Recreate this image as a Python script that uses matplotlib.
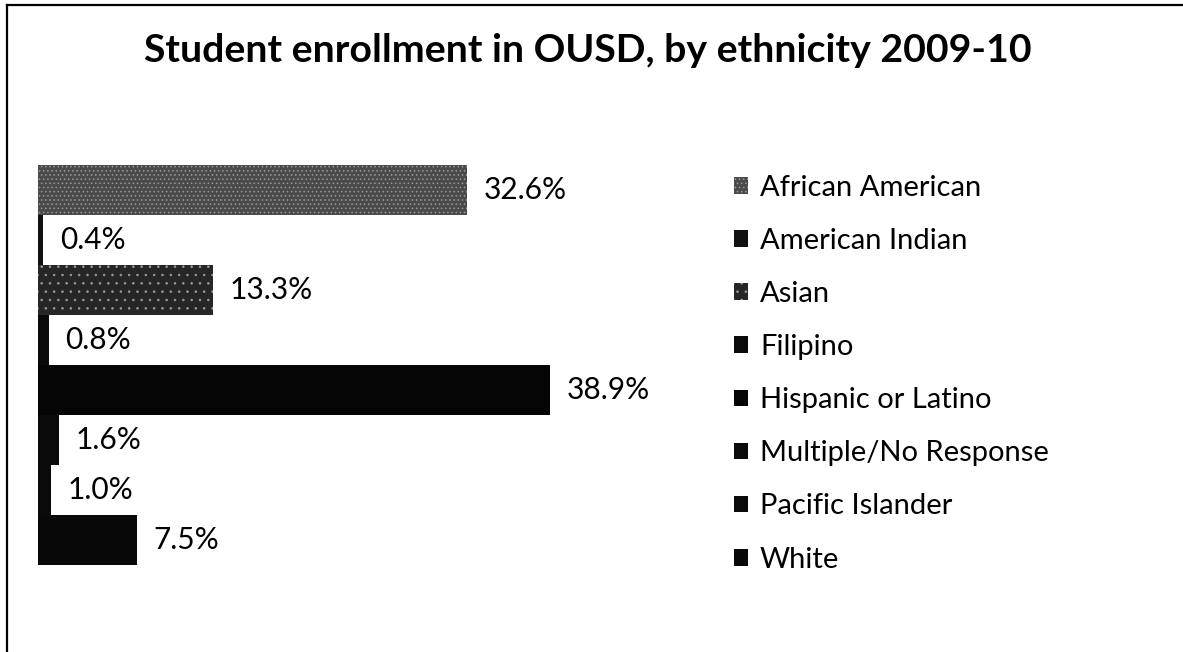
import matplotlib
matplotlib.use("Agg")
import matplotlib.pyplot as plt
from matplotlib.lines import Line2D

# ── Data ──────────────────────────────────────────────────────────────────────

GROUPS = [
    "African American",
    "American Indian",
    "Asian",
    "Filipino",
    "Hispanic or Latino",
    "Multiple/No Response",
    "Pacific Islander",
    "White",
]
SHARES = [32.6, 0.4, 13.3, 0.8, 38.9, 1.6, 1.0, 7.5]

FILLS = ["#4a4a4a", "#111111", "#262626", "#0a0a0a",
         "#050505", "#0a0a0a", "#0a0a0a", "#080808"]
HATCH = ["....", None, "..", None, None, None, None, None]

# ── Figure ────────────────────────────────────────────────────────────────────

plt.rcParams["font.family"] = ["Lato", "DejaVu Sans"]
plt.rcParams["hatch.color"] = "#9a9a9a"
plt.rcParams["hatch.linewidth"] = 0.6

W, H = 1183, 652
fig = plt.figure(figsize=(W / 100, H / 100), dpi=100)
fig.patch.set_facecolor("white")

# plot area in pixel terms: bars start at x=38, span y 165..565
x0, x1 = 38, 630
y_top, y_bot = 165, 565
ax = fig.add_axes([x0 / W, 1 - y_bot / H, (x1 - x0) / W, (y_bot - y_top) / H])

bars = []
for i, (name, val) in enumerate(zip(GROUPS, SHARES)):
    b = ax.barh(i, val, height=1.0, color=FILLS[i], hatch=HATCH[i],
                linewidth=0, label=name)
    bars.append(b)
    ax.bar_label(b, labels=[f"{val:.1f}%"], padding=12, fontsize=21.5)

ax.set_ylim(len(GROUPS) - 0.5, -0.5)
ax.set_xlim(0, (x1 - x0) / 13.16)
ax.axis("off")

leg = fig.legend(
    handles=[b.patches[0] for b in bars], labels=GROUPS,
    loc="upper left", bbox_to_anchor=(722 / W, 1 - 163 / H),
    frameon=False, fontsize=21,
    handlelength=0.5, handleheight=0.5, handletextpad=0.4,
    labelspacing=0.93, borderaxespad=0,
)

fig.text(588 / W, 1 - 51 / H, "Student enrollment in OUSD, by ethnicity 2009-10",
         ha="center", va="center", fontsize=28.3, fontweight="bold")

# chart frame: only top and left edges survive
fig.add_artist(Line2D([7 / W, 1], [1 - 5 / H, 1 - 5 / H],
                      transform=fig.transFigure, color="black", lw=1.6))
fig.add_artist(Line2D([7 / W, 7 / W], [0, 1 - 5 / H],
                      transform=fig.transFigure, color="black", lw=1.6))

fig.savefig("out.png", dpi=100, facecolor="white")
